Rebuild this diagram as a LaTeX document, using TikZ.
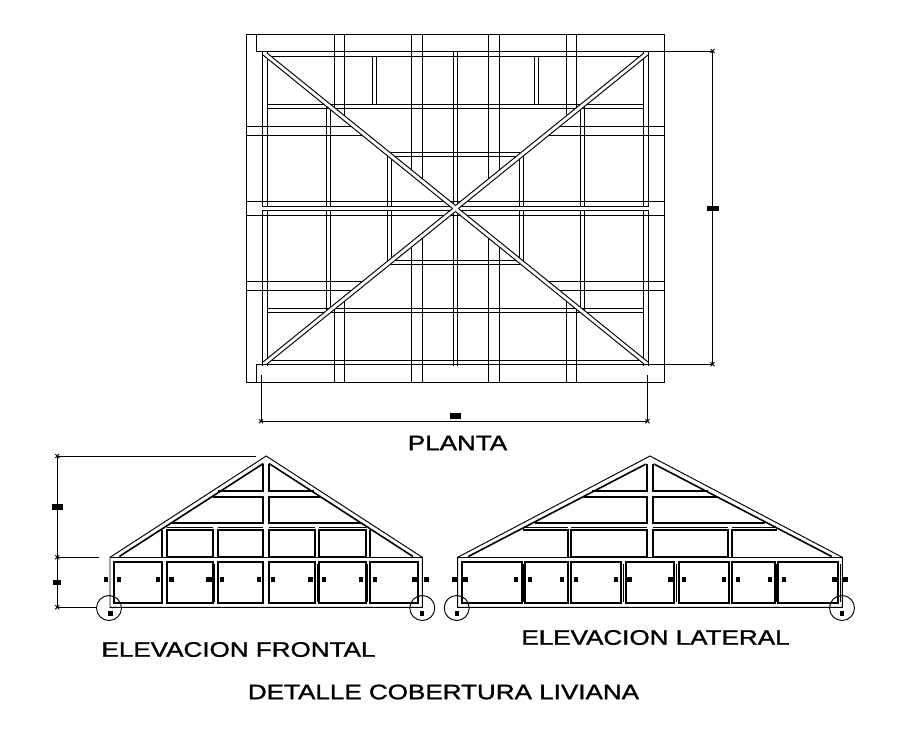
\documentclass[tikz,border=0pt]{standalone}
\usepackage{fontspec}
\usepackage{graphicx}
\setmainfont[FakeBold=1.2]{Liberation Sans}
\usetikzlibrary{calc}
\newcommand{\ancho}[2]{\scalebox{#1}[1]{#2}}
\newcommand{\marco}[4]{\draw[panel] (#1,#3) rectangle (#2,#4);}
\tikzset{
    linea/.style={line width=0.95pt},
    panel/.style={line width=2pt},
    cota/.style={line width=0.9pt},
    marca/.style={fill=black, draw=none},
    titulo/.style={font=\fontsize{21}{21}\selectfont, inner sep=0pt}
}
\begin{document}
\begin{tikzpicture}[x=1pt, y=-1pt]
    \useasboundingbox[fill=white] (0,0) rectangle (902,729);

    % PLANTA, un cuadrante y sus reflejos
    \foreach \sx/\sy in {1/1,-1/1,1/-1,-1/-1} {
        \begin{scope}[shift={(455.5,208.5)}, xscale=\sx, yscale=\sy, shift={(-455.5,-208.5)}, linea]
            \foreach \x in {262.7,267.3} \draw (\x,51) -- (\x,206.7);
            \draw (267.3,56.3) -- (455.5,56.3);
            \draw (267.3,104.3) -- (455.5,104.3);
            \draw (267.3,108.3) -- (455.5,108.3);
            \draw (246.5,126.3) -- (356,126.3);
            \draw (246.5,135.3) -- (366,135.3);
            \draw (391,152.3) -- (455.5,152.3);
            \draw (391.7,156.3) -- (455.5,156.3);
            \draw (246.5,201.7) -- (455.5,201.7);
            % vigas verticales
            \draw (334.7,34.5) -- (334.7,108);
            \draw (344.3,34.5) -- (344.3,116);
            \draw (411.7,34.5) -- (411.7,172);
            \draw (422.3,34.5) -- (422.3,181);
            \draw (453.3,51) -- (453.3,206.7);
            \draw (326.7,106) -- (326.7,206.7);
            \draw (330.7,108.3) -- (330.7,206.7);
            \draw (387.3,156) -- (387.3,206.7);
            \draw (391.7,156.3) -- (391.7,206.7);
        \end{scope}
    }

    % viguetas cortas, solo arriba
    \foreach \x in {372.3,376.7,534.3,538.7} \draw[linea] (\x,56.3) -- (\x,104.3);

    % banda central
    \fill[white] (262.7,206.7) rectangle (648,210.3);
    \draw[linea] (262.7,206.7) -- (648,206.7);
    \draw[linea] (262.7,210.3) -- (648,210.3);

    % diagonales
    \foreach \sx/\sy in {1/1,-1/1,1/-1,-1/-1} {
        \begin{scope}[shift={(455.5,208.5)}, xscale=\sx, yscale=\sy, shift={(-455.5,-208.5)}, linea]
            \fill[white] (267,53) -- (455.5,205.5) -- (455.5,208.5) -- (452.5,208.5) -- (263,55) -- cycle;
            \draw (267,53) -- (455.5,205.5);
            \draw (263,55) -- (452.5,208.5);
        \end{scope}
    }

    % contorno de la planta
    \draw[linea] (246.5,34.5) rectangle (664.5,382.5);
    \draw[linea] (256.7,34.5) -- (256.7,51) -- (712.5,51);
    \draw[linea] (256.7,382.5) -- (256.7,364.3) -- (712.5,364.3);

    % cotas de la planta
    \coordinate (cotaA) at (712.5,51);
    \coordinate (cotaB) at (712.5,364.3);
    \coordinate (cotaC) at (261,421.3);
    \coordinate (cotaD) at (647.5,421.3);
    \draw[cota] (cotaA) -- (cotaB);
    \draw[cota] (cotaC) -- (cotaD);
    \draw[cota] (261,375) -- (cotaC);
    \draw[cota] (647.5,375) -- (cotaD);
    \foreach \p in {cotaA,cotaB,cotaC,cotaD}
        \draw[cota] ($(\p)+(-2,-2)$) -- ($(\p)+(2,2)$) ($(\p)+(-2,2)$) -- ($(\p)+(2,-2)$);
    \fill[marca] (707,206) rectangle (719,210.7);
    \fill[marca] (450,413.3) rectangle (461,418.7);
    \node[titulo] (planta) at (457.5,443) {\ancho{1.24}{PLANTA}};

    % ELEVACION FRONTAL
    \draw[linea] (110,607.3) -- (110,557.3) -- (266.2,456) -- (422.3,557.3) -- (422.3,607.3) -- cycle;
    \draw[line width=1.6pt] (110,557.3) -- (422.3,557.3);
    \foreach \a/\b in {113.7/162.3,166.7/213.3,217.7/263.3,269/314.7,319.3/366,370/418.3}
        \marco{\a}{\b}{562.3}{603.3};
    \foreach \a/\b in {166.7/213.3,217.7/263.3,269/314.7,319.3/366}
        \marco{\a}{\b}{529.5}{557.3};
    \foreach \x in {214.9,317.6,367.6} \draw[linea] (\x,564) -- (\x,602);
    \foreach \a/\b in {166.7/213.3,217.7/263.3,269/314.7,319.3/366}
        \draw[linea] (\a,527.5) -- (\b,527.5);
    \draw[panel] (161.7,529.5) -- (161.7,557.3);
    \draw[panel] (370,529.5) -- (370,557.3);
    \draw[panel] (171.7,522.7) -- (263.3,522.7) -- (263.3,496.7) -- (212.7,496.7);
    \draw[panel] (360.7,522.7) -- (269,522.7) -- (269,496.7) -- (320,496.7);
    \draw[panel] (218.3,490.7) -- (263.3,490.7) -- (263.3,463.5);
    \draw[panel] (314,490.7) -- (269,490.7) -- (269,463.5);
    \draw[line width=1.6pt] (119.3,556.5) -- (263.3,463.5);
    \draw[line width=1.6pt] (413,556.5) -- (269,463.5);
    \foreach \a/\b in {104/108,116.7/121,156.3/160,169.3/173.7,206/211.7,220/224.4,257/261,270.7/274.7,308.3/312.7,321.7/325.7,359.3/363.3,372.7/376.7,412.3/416.7,424/429}
        \fill[marca] (\a,577) rectangle (\b,582.3);

    % ELEVACION LATERAL
    \draw[linea] (457.7,607.3) -- (457.7,557.3) -- (650,456) -- (842.3,557.3) -- (842.3,607.3) -- cycle;
    \draw[line width=1.6pt] (457.7,557.3) -- (842.3,557.3);
    \foreach \a/\b in {461.7/521.7,525/567.7,571/621,625.7/674.3,679/729,732.3/775,778.3/838.3}
        \marco{\a}{\b}{562.3}{603.3};
    \foreach \a/\b in {571/647.3,652.7/728.3}
        \marco{\a}{\b}{529.5}{557.3};
    \foreach \a/\b in {571/647.3,652.7/728.3,732.3/776.7,523.3/567.7}
        \draw[linea] (\a,527.5) -- (\b,527.5);
    \foreach \x in {623.2,676.8,523.2,776.8,840.5} \draw[linea] (\x,564) -- (\x,602);
    \draw[panel] (567.7,557.3) -- (567.7,529.5) -- (523.3,529.5);
    \draw[panel] (732.3,557.3) -- (732.3,529.5) -- (776.7,529.5);
    \draw[panel] (535,522.7) -- (647.3,522.7) -- (647.3,496.7) -- (583.3,496.7);
    \draw[panel] (765,522.7) -- (652.7,522.7) -- (652.7,496.7) -- (716.7,496.7);
    \draw[panel] (591.7,490.7) -- (647.3,490.7) -- (647.3,463.5);
    \draw[panel] (708.3,490.7) -- (652.7,490.7) -- (652.7,463.5);
    \draw[line width=1.6pt] (468.3,556.5) -- (646,464);
    \draw[line width=1.6pt] (831.7,556.5) -- (654,464);
    \foreach \a/\b in {451.7/456.7,463.3/468.3,514/518.3,527.7/532,560/564.3,574/577.7,614/618.3,627.3/631.7,668.3/672.7,681.7/686,722.3/726,735.7/740,768/772.3,781.7/786,831.7/836.7,843.3/848.3}
        \fill[marca] (\a,577) rectangle (\b,582.3);

    % apoyos
    \foreach \cx/\qx in {109/110.5,422.3/421.7,456.7/456.7,842/842.2} {
        \draw[linea] (\cx,608) circle (12.5);
        \fill[marca] (\qx-2.2,611.3) rectangle (\qx+2.2,615.7);
    }

    % cotas de la elevacion
    \coordinate (cotaE) at (57.3,456);
    \coordinate (cotaF) at (57.3,557.3);
    \coordinate (cotaG) at (57.3,607.3);
    \draw[cota] (cotaE) -- (cotaG);
    \draw[cota] (cotaE) -- (256,456);
    \draw[cota] (cotaF) -- (99,557.3);
    \draw[cota] (cotaG) -- (96.7,607.3);
    \foreach \p in {cotaE,cotaF,cotaG}
        \draw[cota] ($(\p)+(-2,-2)$) -- ($(\p)+(2,2)$) ($(\p)+(-2,2)$) -- ($(\p)+(2,-2)$);
    \fill[marca] (52,504) rectangle (63,510);
    \fill[marca] (53,580) rectangle (60.7,584.7);

    % titulos
    \node[titulo] (frontal) at (238.5,649.5) {\ancho{1.24}{ELEVACION FRONTAL}};
    \node[titulo] (lateral) at (655.5,637.5) {\ancho{1.24}{ELEVACION LATERAL}};
    \node[titulo] (detalle) at (443.5,692) {\ancho{1.24}{DETALLE COBERTURA LIVIANA}};
\end{tikzpicture}
\end{document}
